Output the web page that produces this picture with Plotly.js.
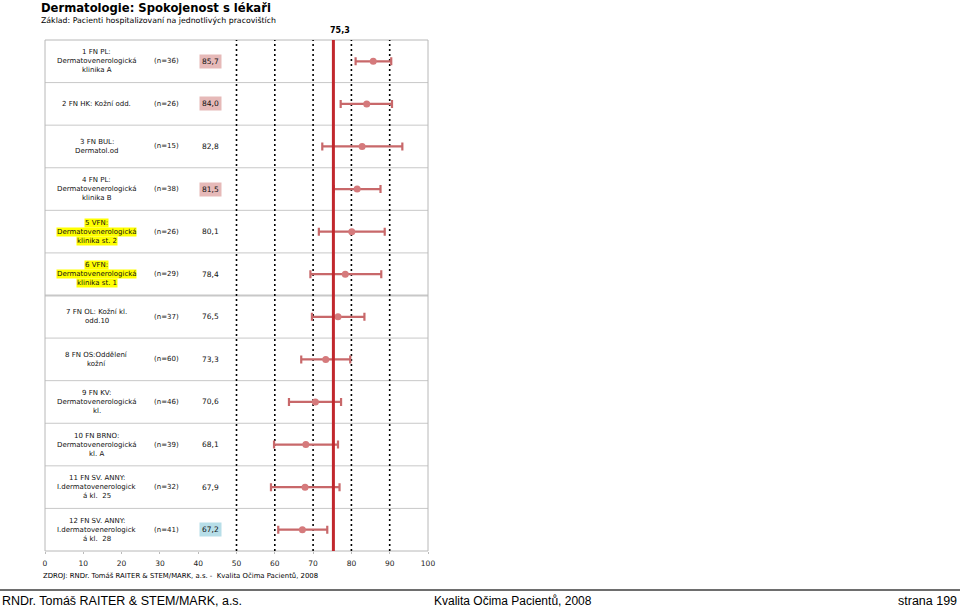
<!DOCTYPE html>
<html><head><meta charset="utf-8">
<script src="https://cdn.plot.ly/plotly-3.0.1.min.js"></script>
<style>body{margin:0;background:#fff}#chart{width:960px;height:608px}</style>
</head><body><div id="chart"></div>
<script>
// ---- data ----
const labels = [
  "1 FN PL:<br>Dermatovenerologická<br>klinika A",
  "2 FN HK: Kožní odd.",
  "3 FN BUL:<br>Dermatol.od",
  "4 FN PL:<br>Dermatovenerologická<br>klinika B",
  "5 VFN:<br>Dermatovenerologická<br>klinika st. 2",
  "6 VFN:<br>Dermatovenerologická<br>klinika st. 1",
  "7 FN OL: Kožní kl.<br>odd.10",
  "8 FN OS:Oddělení<br>kožní",
  "9 FN KV:<br>Dermatovenerologická<br>kl.",
  "10 FN BRNO:<br>Dermatovenerologická<br>kl. A",
  "11 FN SV. ANNY:<br>I.dermatovenerologick<br>á kl.  25",
  "12 FN SV. ANNY:<br>I.dermatovenerologick<br>á kl.  28"
];
const nCounts = ["(n=36)","(n=26)","(n=15)","(n=38)","(n=26)","(n=29)","(n=37)","(n=60)","(n=46)","(n=39)","(n=32)","(n=41)"];
const meanValues = [85.7, 84.0, 82.8, 81.5, 80.1, 78.4, 76.5, 73.3, 70.6, 68.1, 67.9, 67.2];
const valueLabels = ["85,7","84,0","82,8","81,5","80,1","78,4","76,5","73,3","70,6","68,1","67,9","67,2"];
const lowerCI = [81.1, 77.2, 72.4, 75.4, 71.5, 69.3, 69.7, 66.9, 63.7, 59.8, 59.0, 60.9];
const upperCI = [90.4, 90.6, 93.3, 87.6, 88.7, 87.8, 83.4, 79.7, 77.3, 76.5, 76.9, 73.7];
const valueHighlight = ["high","high","","high","","","","","","","","low"];
const labelHighlight = [false,false,false,false,true,true,false,false,false,false,false,false];
const overallMean = 75.3;
const overallLabel = "75,3";
const gridValues = [50, 60, 70, 80, 90];
const tickValues = [0,10,20,30,40,50,60,70,80,90,100];

// ---- layout helpers ----
const L = 45, R = 428, T = 40, B = 551;
const W = R - L, H = B - T;
const px = x => (x - L) / W;
const py = y => (B - y) / H;
const rows = labels.map((_, i) => i + 1);
const F = "DejaVu Sans, Verdana, sans-serif";

const annotations = [];
const shapes = [];

// row text
labels.forEach((lab, i) => {
  const lines = lab.split("<br>");
  const lh = 9;
  lines.forEach((ln, j) => {
    annotations.push({
      x: 13.5, y: rows[i], xref: "x", yref: "y", text: ln, showarrow: false,
      yshift: ((lines.length - 1) / 2 - j) * lh,
      font: {family: F, size: 7, color: "#111"},
      bgcolor: labelHighlight[i] ? "#ffff00" : "rgba(0,0,0,0)", borderpad: 0
    });
  });
  annotations.push({x: 31.7, y: rows[i], xref: "x", yref: "y", text: nCounts[i], showarrow: false,
    font: {family: F, size: 7, color: "#111"}});
  const bg = valueHighlight[i] === "high" ? "#e6b9b8" : (valueHighlight[i] === "low" ? "#b7dee8" : "rgba(0,0,0,0)");
  annotations.push({x: 43.2, y: rows[i], xref: "x", yref: "y", text: valueLabels[i], showarrow: false,
    font: {family: F, size: 7.5, color: "#111"}, bgcolor: bg, borderpad: 2});
});

// row separators
for (let k = 1; k < rows.length; k++) {
  shapes.push({type: "line", xref: "paper", yref: "y", x0: 0, x1: 1, y0: k + 0.5, y1: k + 0.5,
    line: {color: "#c8c8c8", width: k === 6 ? 2 : 1}, layer: "below"});
}
// frame
shapes.push({type: "rect", xref: "paper", yref: "paper", x0: 0, x1: 1, y0: 0, y1: 1,
  line: {color: "#b8b8b8", width: 1}, layer: "below"});
// dotted grid
gridValues.forEach(g => shapes.push({type: "line", xref: "x", yref: "paper", x0: g, x1: g, y0: 0, y1: 1,
  line: {color: "#000", width: 1.6, dash: "2px,3px"}, layer: "below"}));
// overall mean line
shapes.push({type: "line", xref: "x", yref: "paper", x0: overallMean, x1: overallMean, y0: 0, y1: 1,
  line: {color: "#c1272d", width: 3}});
annotations.push({x: overallMean, y: py(30.5), xref: "x", yref: "paper", text: "<b>" + overallLabel + "</b>",
  showarrow: false, yanchor: "middle", xshift: 7, font: {family: F, size: 8, color: "#000"}});

// titles & footers
annotations.push({x: px(39), y: py(8), xref: "paper", yref: "paper", xanchor: "left", yanchor: "middle",
  text: "<b>Dermatologie: Spokojenost s lékaři</b>", showarrow: false, font: {family: F, size: 11.6, color: "#000"}});
annotations.push({x: px(39), y: py(20.5), xref: "paper", yref: "paper", xanchor: "left", yanchor: "middle",
  text: "Základ: Pacienti hospitalizovaní na jednotlivých pracovištích", showarrow: false, font: {family: F, size: 7.8, color: "#000"}});
annotations.push({x: px(41), y: py(576), xref: "paper", yref: "paper", xanchor: "left", yanchor: "middle",
  text: "ZDROJ: RNDr. Tomáš RAITER &amp; STEM/MARK, a.s. -  Kvalita Očima Pacientů, 2008", showarrow: false,
  font: {family: F, size: 6.9, color: "#000"}});
shapes.push({type: "line", xref: "paper", yref: "paper", x0: px(0), x1: px(960), y0: py(590), y1: py(590),
  line: {color: "#6e6e6e", width: 2}});
const FF = "Liberation Sans, Arial, sans-serif";
annotations.push({x: px(0), y: py(601), xref: "paper", yref: "paper", xanchor: "left", yanchor: "middle",
  text: "RNDr. Tomáš RAITER &amp; STEM/MARK, a.s.", showarrow: false, font: {family: FF, size: 12.5, color: "#000"}});
annotations.push({x: px(432), y: py(601), xref: "paper", yref: "paper", xanchor: "left", yanchor: "middle",
  text: "Kvalita Očima Pacientů, 2008", showarrow: false, font: {family: FF, size: 12, color: "#000"}});
annotations.push({x: px(959), y: py(601), xref: "paper", yref: "paper", xanchor: "right", yanchor: "middle",
  text: "strana 199", showarrow: false, font: {family: FF, size: 12.5, color: "#000"}});

const trace = {
  type: "scatter", mode: "markers", x: meanValues, y: rows,
  marker: {color: "#d57a7c", size: 7},
  error_x: {type: "data", symmetric: false,
    array: upperCI.map((u, i) => u - meanValues[i]),
    arrayminus: lowerCI.map((l, i) => meanValues[i] - l),
    color: "#c8686a", thickness: 2.2, width: 4},
  hoverinfo: "skip", cliponaxis: false
};

const layout = {
  width: 960, height: 608, paper_bgcolor: "#fff", plot_bgcolor: "#fff",
  margin: {l: L, r: 960 - R, t: T, b: 608 - B},
  showlegend: false,
  xaxis: {range: [0, 100], tickvals: tickValues, ticktext: tickValues.map(String), showgrid: false, zeroline: false,
    showline: false, ticks: "outside", ticklen: 2, tickcolor: "#bbbbbb", ticklabelstandoff: 3,
    tickfont: {family: F, size: 7.5, color: "#222"}, fixedrange: true},
  yaxis: {range: [12.5, 0.5], showgrid: false, zeroline: false, showticklabels: false, ticks: "", fixedrange: true},
  shapes, annotations
};
Plotly.newPlot("chart", [trace], layout, {staticPlot: true, displayModeBar: false});
</script>
</body></html>
